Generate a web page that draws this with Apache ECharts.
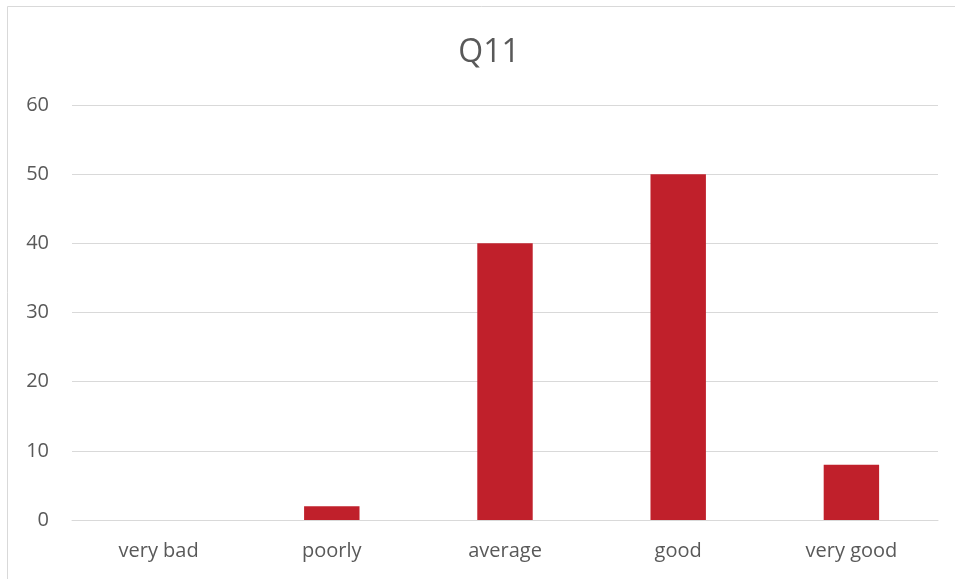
<!DOCTYPE html>
<html>
<head>
<meta charset="utf-8">
<script src="https://cdn.jsdelivr.net/npm/echarts@6/dist/echarts.min.js"></script>
<style>
  html, body { margin: 0; padding: 0; background: #fff; }
  #chart { width: 955px; height: 579px; }
</style>
</head>
<body>
<div id="chart"></div>
<script>
const titleText = 'Q11';
const categories = ['very bad', 'poorly', 'average', 'good', 'very good'];
const counts = [0, 2, 40, 50, 8];
const yTicks = { min: 0, max: 60, interval: 10 };

const chart = echarts.init(document.getElementById('chart'), null, { renderer: 'canvas' });
const fontFamily = '"Open Sans", "Liberation Sans", sans-serif';

chart.setOption({
  animation: false,
  backgroundColor: '#ffffff',
  title: {
    text: titleText,
    left: 484,
    top: 32,
    textAlign: 'center',
    textStyle: { fontFamily, fontSize: 32, fontWeight: 'normal', color: '#595959' }
  },
  graphic: [{
    type: 'polyline',
    shape: { points: [[7.5, 579], [7.5, 6.5], [955, 6.5]] },
    style: { stroke: '#d9d9d9', lineWidth: 1, fill: null },
    silent: true
  }],
  grid: { left: 72, right: 17, top: 105, bottom: 59, containLabel: false },
  xAxis: {
    type: 'category',
    data: categories,
    axisLine: { show: true, lineStyle: { color: '#d9d9d9', width: 1 } },
    axisTick: { show: false },
    axisLabel: { fontFamily, fontSize: 20, color: '#595959', margin: 21 }
  },
  yAxis: {
    type: 'value',
    min: yTicks.min,
    max: yTicks.max,
    interval: yTicks.interval,
    axisLine: { show: false },
    axisTick: { show: false },
    splitLine: { lineStyle: { color: '#d9d9d9', width: 1 } },
    axisLabel: { fontFamily, fontSize: 20, color: '#595959', margin: 23 }
  },
  series: [{
    type: 'bar',
    data: counts,
    barWidth: '32%',
    itemStyle: { color: '#C0202B' }
  }]
});
</script>
</body>
</html>
